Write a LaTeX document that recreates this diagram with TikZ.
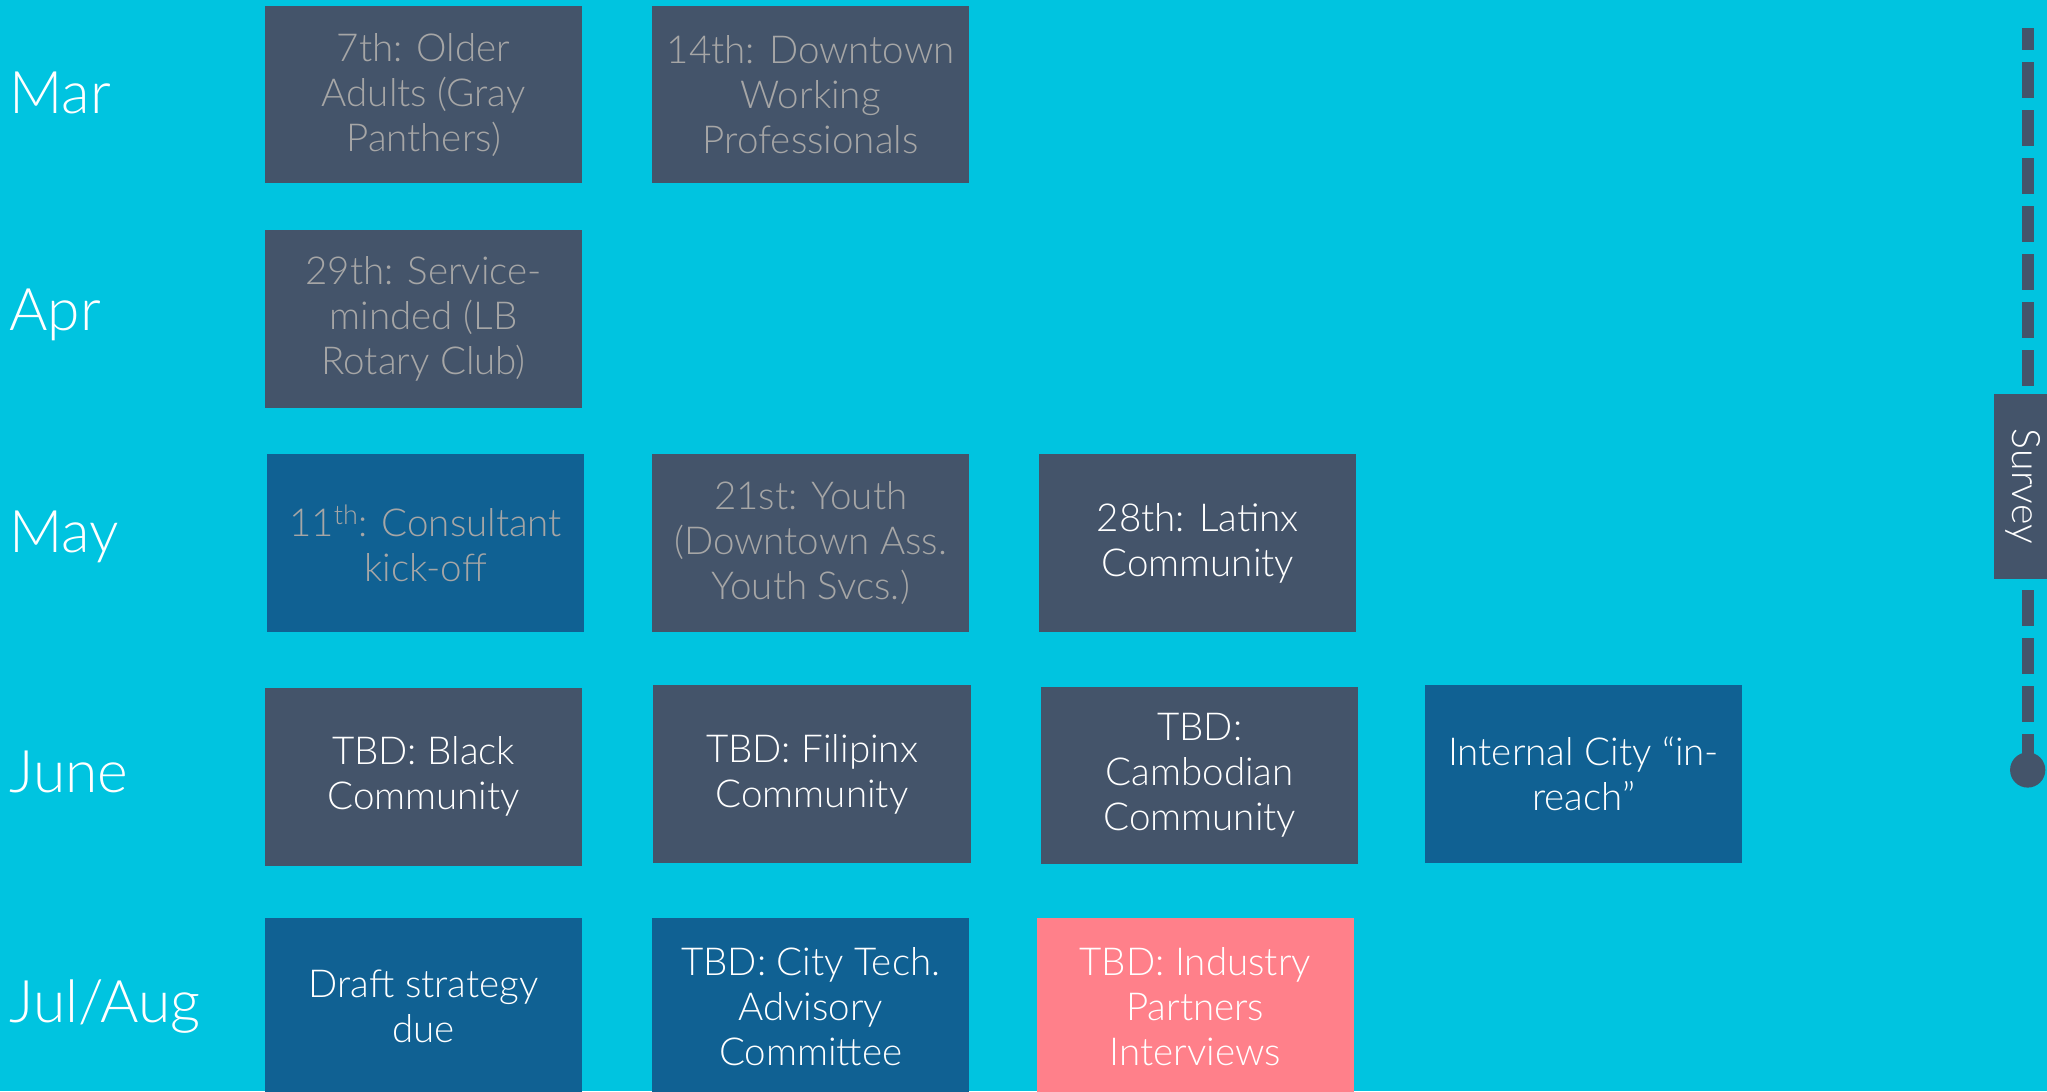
\documentclass[tikz,border=0pt]{standalone}
\usepackage{fontspec}
\setmainfont{Lato Light}
\definecolor{bgc}{RGB}{0,196,224}
\definecolor{slate}{RGB}{68,84,106}
\definecolor{dblue}{RGB}{16,97,147}
\definecolor{pinkc}{RGB}{255,128,138}
\definecolor{graytxt}{RGB}{166,166,166}
\tikzset{
  evbox/.style={minimum width=243pt, minimum height=136pt, inner sep=0pt, align=center,
    font=\fontsize{29.5}{34.5}\selectfont},
  slatebox/.style={evbox, fill=slate},
  bluebox/.style={evbox, fill=dblue},
  pinkbox/.style={evbox, fill=pinkc, text=white},
  graytext/.style={text=graytxt},
  whitetext/.style={text=white},
  month/.style={anchor=west, text=white, inner sep=0pt, font=\fontsize{45}{50}\selectfont},
}
\begin{document}
\begin{tikzpicture}[x=1pt, y=-1pt]
\fill[bgc] (0,0) rectangle (1568,836);
\useasboundingbox (0,0) rectangle (1568,836);
% month labels
\node[month] (mar) at (7,71) {Mar};
\node[month] (apr) at (7,241) {Apr};
\node[month] (may) at (7,411) {May};
\node[month] (jun) at (7,591) {June};
\node[month] (jul) at (7,771) {Jul/Aug};
% Mar
\node[slatebox, graytext] (m1) at (324.5,72.5) {7th: Older\\Adults (Gray\\Panthers)};
\node[slatebox, graytext] (m2) at (621,72.5) {14th: Downtown\\Working\\Professionals};
% Apr
\node[slatebox, graytext] (a1) at (324.5,244.5) {29th: Service-\\minded (LB\\Rotary Club)};
% May
\node[bluebox, graytext] (y1) at (326,416) {11\textsuperscript{th}: Consultant\\kick-off};
\node[slatebox, graytext] (y2) at (621,416) {21st: Youth\\(Downtown Ass.\\Youth Svcs.)};
\node[slatebox, whitetext] (y3) at (917.5,416) {28th: Latinx\\Community};
% June
\node[slatebox, whitetext] (j1) at (324.5,595) {TBD: Black\\Community};
\node[slatebox, whitetext] (j2) at (622,593) {TBD: Filipinx\\Community};
\node[slatebox, whitetext] (j3) at (919,594) {TBD:\\Cambodian\\Community};
\node[bluebox, whitetext] (j4) at (1213,593) {Internal City “in-\\reach”};
% Jul/Aug
\node[bluebox, whitetext] (l1) at (324.5,771) {Draft strategy\\due};
\node[bluebox, whitetext] (l2) at (621,771) {TBD: City Tech.\\Advisory\\Committee};
\node[pinkbox] (l3) at (915.5,771) {TBD: Industry\\Partners\\Interviews};
% Survey timeline
\coordinate (stop) at (1553.2,21.45);
\coordinate (send) at (1553.2,589.8);
\draw[slate, line width=9.2pt, dash pattern=on 27.58pt off 9.19pt, dash phase=10.72pt] (stop) -- (send);
\fill[slate] (send) circle (13.5pt);
\node[fill=slate, minimum width=44pt, minimum height=142pt, inner sep=0pt, text=white,
  font=\fontsize{30}{34}\selectfont] (survey) at (1549.4,372.5) {\rotatebox{-90}{Survey}};
\end{tikzpicture}
\end{document}
